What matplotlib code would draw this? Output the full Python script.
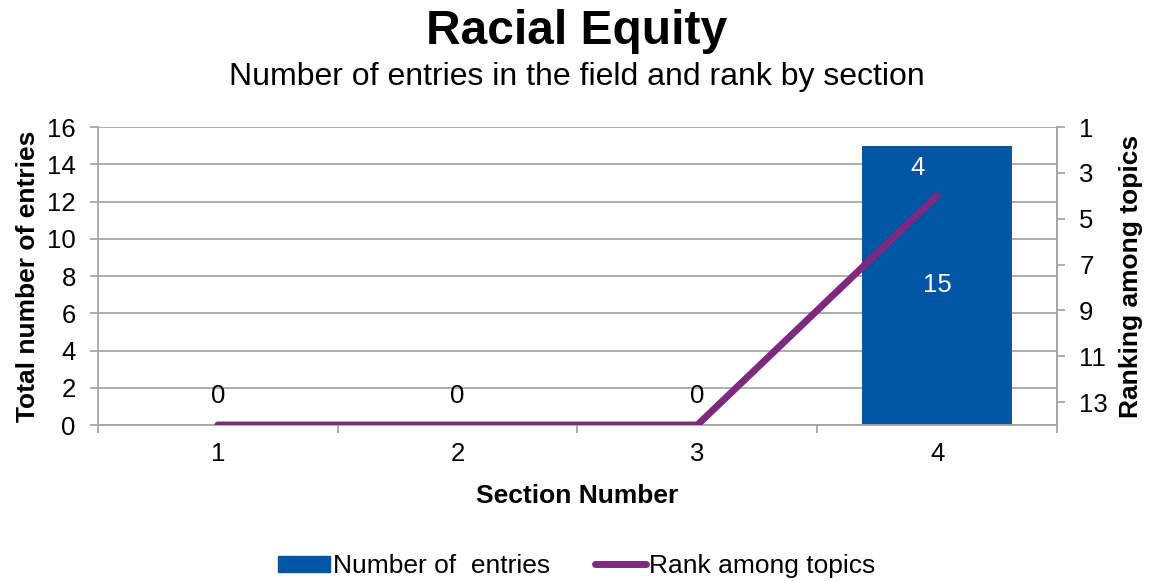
import matplotlib
matplotlib.use("Agg")
import matplotlib.pyplot as plt
from matplotlib.lines import Line2D
from matplotlib.patches import Patch
import numpy as np

plt.rcParams["font.family"] = ["Liberation Sans", "DejaVu Sans"]

sections = [1, 2, 3, 4]
entries = [0, 0, 0, 15]
ranks = [14, 14, 14, 4]

BLUE = "#0055A5"
PURPLE = "#7D2A7E"
GRID = "#A6A6A6"

fig = plt.figure(figsize=(11.54, 5.81), dpi=100)
ax = fig.add_axes([0.0849, 0.2685, 0.8310, 0.5129])

x = np.array(sections)
ax.bar(x, entries, width=0.625, color=BLUE, zorder=2)
ax.set_xlim(0.5, 4.5)
ax.set_ylim(0, 16)
ax.set_yticks(range(0, 17, 2))
ax.yaxis.grid(True, color=GRID, lw=1.3, zorder=0)
ax.set_axisbelow(True)

for xi, v in zip(x, entries):
    if v == 0:
        ax.text(xi, 0.9, f"{v}", ha="center", va="bottom", fontsize=18.5)
    else:
        ax.text(xi, v / 2, f"{v}", ha="center", va="center", fontsize=18.5,
                color="white", zorder=5)

ax.set_xticks(x)
ax.set_xticklabels([str(s) for s in sections])
ax.set_xticks(np.arange(0.5, 4.6, 1.0), minor=True)
ax.tick_params(axis="x", which="major", length=0, pad=12, labelsize=18.5)
ax.tick_params(axis="x", which="minor", length=6, width=1.3, color=GRID,
               direction="out")
ax.tick_params(axis="y", length=6, width=1.3, color=GRID, pad=10, labelsize=18.5)
ax.spines["top"].set_visible(False)
for s in ["left", "bottom", "right"]:
    ax.spines[s].set_color(GRID)
    ax.spines[s].set_linewidth(1.3)

ax.set_xlabel("Section Number", fontsize=19, fontweight="bold", labelpad=13)
ax.set_ylabel("Total number of entries", fontsize=19, fontweight="bold",
              labelpad=5)

ax2 = ax.twinx()
ax2.plot(x, ranks, color=PURPLE, lw=5, solid_capstyle="round",
         solid_joinstyle="round", zorder=4)
ax2.set_ylim(14, 1)
ax2.set_yticks(range(1, 14, 2))
ax2.tick_params(axis="y", length=6, width=1.3, color=GRID, pad=10, labelsize=18.5)
for s in ["top", "left", "bottom"]:
    ax2.spines[s].set_visible(False)
ax2.spines["right"].set_color(GRID)
ax2.spines["right"].set_linewidth(1.3)
ax2.text(x[-1] - 0.08, ranks[-1] - 1.2, f"{ranks[-1]}", ha="center", va="center",
         fontsize=18.5, color="white", zorder=5)
ax2.set_ylabel("Ranking among topics", fontsize=19, fontweight="bold",
               labelpad=8)

fig.text(0.5, 0.946, "Racial Equity", ha="center", va="center", fontsize=34.5,
         fontweight="bold")
fig.text(0.5, 0.867, "Number of entries in the field and rank by section",
         ha="center", va="center", fontsize=23)

handles = [Patch(color=BLUE, label="Number of  entries"),
           Line2D([0], [0], color=PURPLE, lw=5, solid_capstyle="round",
                  label="Rank among topics")]
fig.legend(handles=handles, loc="center", bbox_to_anchor=(0.5, 0.026), ncol=2,
           frameon=False, fontsize=19, handlelength=1.95, handleheight=0.55,
           handletextpad=0.12, columnspacing=1.7)

fig.savefig("out.png", dpi=100)
